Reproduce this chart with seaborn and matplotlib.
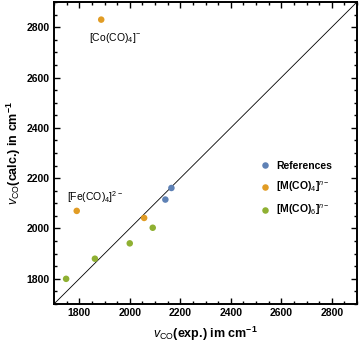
import matplotlib
matplotlib.use("Agg")
import matplotlib.pyplot as plt
import seaborn as sns
import pandas as pd
from matplotlib.ticker import MultipleLocator

sns.set_style("white")
plt.rcParams['font.family'] = ['Liberation Sans', 'DejaVu Sans']
plt.rcParams['mathtext.fontset'] = 'custom'
plt.rcParams['mathtext.rm'] = 'Liberation Sans'
plt.rcParams['mathtext.it'] = 'Liberation Sans:italic'
plt.rcParams['mathtext.bf'] = 'Liberation Sans:bold'
plt.rcParams['text.color'] = 'black'
plt.rcParams['axes.labelcolor'] = 'black'
plt.rcParams['xtick.color'] = 'black'
plt.rcParams['ytick.color'] = 'black'

groups = ["References", "References",
          "[M(CO)$_4$]$^{n-}$", "[M(CO)$_4$]$^{n-}$", "[M(CO)$_4$]$^{n-}$",
          "[M(CO)$_6$]$^{n-}$", "[M(CO)$_6$]$^{n-}$", "[M(CO)$_6$]$^{n-}$", "[M(CO)$_6$]$^{n-}$"]
exp_vals = [2165, 2141, 1887, 1790, 2057, 1748, 1862, 2000, 2091]
calc_vals = [2161, 2115, 2830, 2070, 2042, 1800, 1880, 1941, 2003]
palette = ["#5E81B5", "#E19C24", "#8FB032"]
annot_text = ["[Co(CO)$_4$]$^{-}$", "[Fe(CO)$_4$]$^{2-}$"]
annot_xy = [(1887, 2830), (1790, 2070)]
ticks = [1800, 2000, 2200, 2400, 2600, 2800]

df = pd.DataFrame({"exp": exp_vals, "calc": calc_vals, "group": groups})

fig = plt.figure(figsize=(3.6, 3.47), dpi=100)
ax = fig.add_axes([54/360, 43/347, (357-54)/360, (345-43)/347])

lo, hi = 1700, 2900
ax.plot([lo, hi], [lo, hi], color="black", lw=0.6, zorder=1)

sns.scatterplot(data=df, x="exp", y="calc", hue="group",
                hue_order=list(dict.fromkeys(groups)), palette=palette,
                s=22, edgecolor="none", ax=ax, zorder=3)

ax.set_xlim(lo, hi)
ax.set_ylim(lo, hi)
ax.set_xticks(ticks)
ax.set_yticks(ticks)
ax.xaxis.set_minor_locator(MultipleLocator(50))
ax.yaxis.set_minor_locator(MultipleLocator(50))
ax.tick_params(which="both", direction="in", top=True, right=True,
               bottom=True, left=True, width=1.0, color="black",
               labelcolor="black")
ax.tick_params(which="major", length=4, labelsize=7.5, pad=3)
ax.tick_params(which="minor", length=2)
for lab in ax.get_xticklabels() + ax.get_yticklabels():
    lab.set_fontweight("bold")
for sp in ax.spines.values():
    sp.set_color("black")
    sp.set_linewidth(1.4)

ax.set_xlabel(r"$\mathbf{\mathit{v}}_{\mathrm{CO}}$(exp.) im cm$^{\mathbf{-1}}$",
              fontsize=9, fontweight="bold", labelpad=5, color="black")
ax.set_ylabel(r"$\mathbf{\mathit{v}}_{\mathrm{CO}}$(calc.) in cm$^{\mathbf{-1}}$",
              fontsize=9, fontweight="bold", labelpad=3, color="black")

ax.annotate(annot_text[0], xy=annot_xy[0], xytext=(10, -13), textcoords="offset points",
            ha="center", va="center", fontsize=7.5, color="black")
ax.annotate(annot_text[1], xy=annot_xy[1], xytext=(13, 10), textcoords="offset points",
            ha="center", va="center", fontsize=7.5, color="black")

leg = ax.legend(loc="center left", bbox_to_anchor=(0.632, 0.38), frameon=False,
                fontsize=7.5, handletextpad=0.05, labelspacing=0.85,
                markerscale=1.0, title=None)
for t in leg.get_texts():
    t.set_fontweight("bold")
    t.set_color("black")

fig.savefig("out.png", dpi=100)
